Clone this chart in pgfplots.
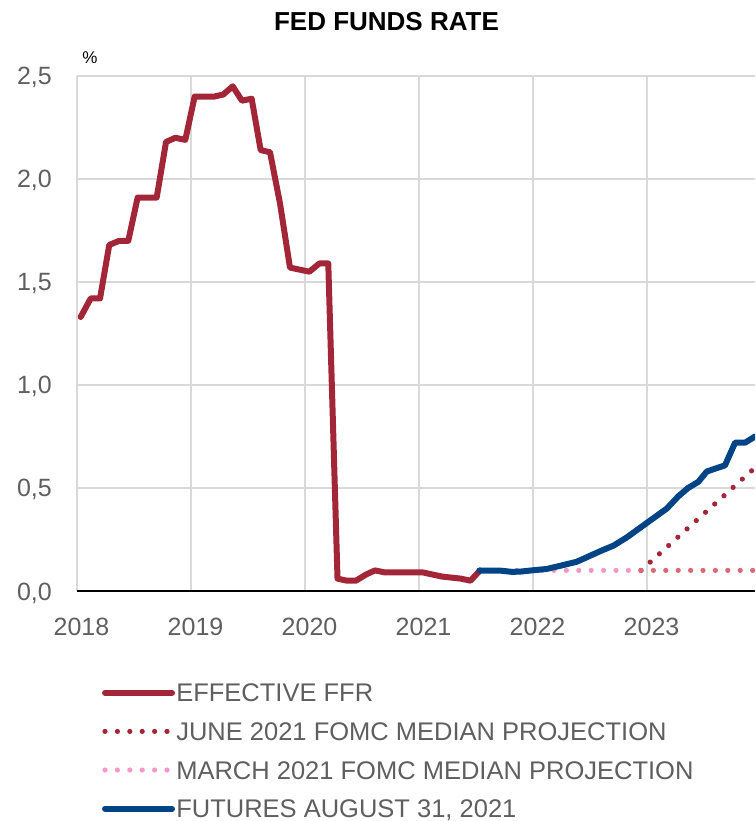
\documentclass[border=0pt]{standalone}
\usepackage{fontspec}
\setmainfont{Liberation Sans}
\usepackage{pgfplots}
\pgfplotsset{compat=1.18}

\definecolor{ffrred}{RGB}{163,38,56}
\definecolor{futblue}{RGB}{0,68,134}
\definecolor{marpink}{RGB}{245,152,200}
\definecolor{salmon}{RGB}{218,104,118}
\definecolor{textgray}{RGB}{95,95,95}
\definecolor{gridgray}{RGB}{217,217,217}

\pgfplotsset{
    ffrline/.style={ffrred, line width=6pt, line cap=round},
    futline/.style={futblue, line width=6pt, line cap=round},
    dotline/.style={line width=5.2pt, line cap=round, dash pattern=on 0pt off 12.4pt},
}

\begin{document}
\begin{tikzpicture}[x=1pt,y=1pt]
\begin{axis}[
    at={(0,0)}, anchor=south west,
    scale only axis, width=678pt, height=515pt,
    xmin=2018, xmax=2023.947,
    ymin=0, ymax=2.5,
    xtick={2018,2019,2020,2021,2022,2023},
    xticklabels={2018,2019,2020,2021,2022,2023},
    ytick={0,0.5,1,1.5,2,2.5},
    yticklabels={{0,0},{0,5},{1,0},{1,5},{2,0},{2,5}},
    extra y ticks={0}, extra y tick labels={},
    extra y tick style={grid=major, major grid style={black, line width=2pt}},
    grid=major,
    major grid style={gridgray, line width=1.3pt},
    axis line style={draw=none},
    major tick length=0pt,
    tick style={draw=none},
    ticklabel style={font=\fontsize{25}{30}\selectfont, text=textgray, inner sep=0pt},
    xticklabel style={anchor=base, yshift=-44pt, xshift=4.5pt},
    yticklabel style={anchor=base east, xshift=-25pt, yshift=-9pt},
    legend style={
        at={(axis description cs:0.0369,-0.1802)}, anchor=north west,
        draw=none, fill=none, inner sep=0pt, outer sep=0pt,
        font=\fontsize{25.5}{30}\selectfont, text=textgray,
        row sep=20.6pt, column sep=1.3pt,
        nodes={inner sep=0pt, text height=18pt, text depth=0pt},
    },
    legend cell align=left,
    legend image code/.code={\draw[#1] (0pt,0pt) -- (67pt,0pt);},
    line join=round,
]
% June 2021 FOMC median projection
\addplot[ffrred, dotline, forget plot] coordinates {
    (2022.947,0.10) (2023.947,0.5985)
};
% March 2021 FOMC median projection
\addplot[marpink, dotline, forget plot] coordinates {
    (2021.531,0.10) (2022.84,0.10)
};
\addplot[salmon, dotline, forget plot] coordinates {
    (2022.947,0.10) (2023.947,0.10)
};
% Effective FFR
\addplot[ffrline, forget plot] coordinates {
    (2018.032,1.33) (2018.120,1.42) (2018.202,1.42) (2018.283,1.68)
    (2018.371,1.70) (2018.450,1.70) (2018.532,1.91) (2018.614,1.91)
    (2018.699,1.91) (2018.781,2.18) (2018.862,2.20) (2018.950,2.19)
    (2019.032,2.40) (2019.114,2.40) (2019.202,2.40) (2019.283,2.41)
    (2019.366,2.45) (2019.447,2.38) (2019.532,2.39) (2019.611,2.14)
    (2019.693,2.13) (2019.781,1.88) (2019.868,1.57) (2019.952,1.56)
    (2020.038,1.55) (2020.126,1.59) (2020.204,1.59) (2020.285,0.06)
    (2020.368,0.05) (2020.447,0.05) (2020.535,0.08) (2020.614,0.10)
    (2020.702,0.09) (2020.785,0.09) (2020.868,0.09) (2020.952,0.09)
    (2021.035,0.09) (2021.118,0.08) (2021.202,0.07) (2021.285,0.065)
    (2021.368,0.06) (2021.452,0.05) (2021.535,0.10)
};
% Futures August 31, 2021
\addplot[futline, forget plot] coordinates {
    (2021.529,0.099) (2021.711,0.099) (2021.813,0.093) (2021.886,0.094)
    (2021.989,0.100) (2022.120,0.107) (2022.266,0.126) (2022.383,0.142)
    (2022.500,0.171) (2022.617,0.200) (2022.705,0.220) (2022.822,0.260)
    (2022.997,0.330) (2023.173,0.400) (2023.275,0.460) (2023.360,0.500)
    (2023.450,0.530) (2023.524,0.580) (2023.684,0.610) (2023.772,0.720)
    (2023.860,0.720) (2023.947,0.750)
};
% legend in the order of the reference
\addlegendimage{ffrline}
\addlegendentry{EFFECTIVE FFR}
\addlegendimage{ffrred, dotline}
\addlegendentry{JUNE 2021 FOMC MEDIAN PROJECTION}
\addlegendimage{marpink, dotline}
\addlegendentry{MARCH 2021 FOMC MEDIAN PROJECTION}
\addlegendimage{futline}
\addlegendentry{FUTURES AUGUST 31, 2021}
\end{axis}
\node[font=\bfseries\fontsize{26}{31}\selectfont, anchor=base] at (309.5,560) {FED FUNDS RATE};
\node[font=\fontsize{17}{20}\selectfont, anchor=base, text=black] at (13,527) {\%};
\pgfresetboundingbox
\path[use as bounding box] (-77,-230) rectangle (678,591);
\end{tikzpicture}
\end{document}
